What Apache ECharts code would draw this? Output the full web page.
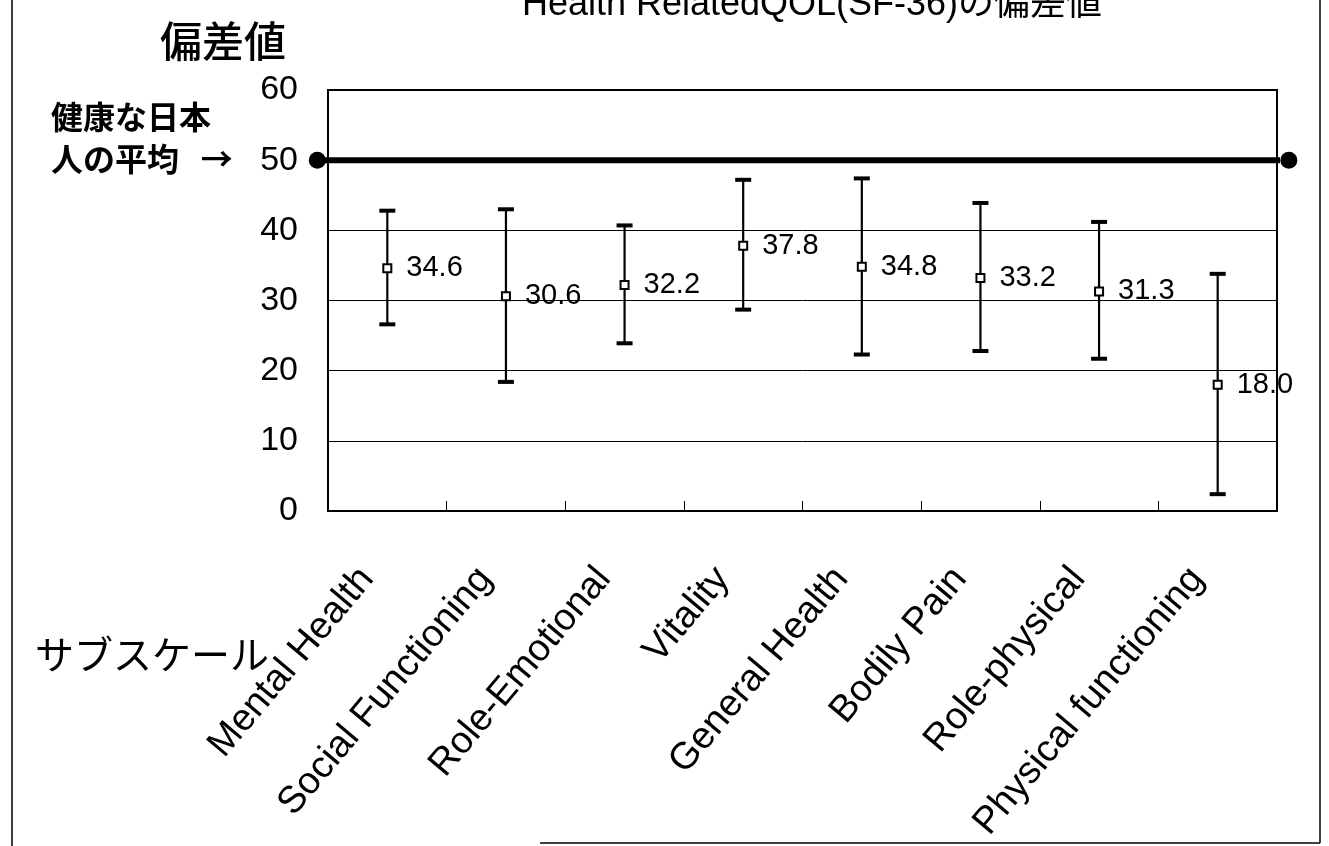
<!DOCTYPE html>
<html>
<head>
<meta charset="utf-8">
<script src="https://cdn.jsdelivr.net/npm/echarts@6/dist/echarts.min.js"></script>
<style>
html,body{margin:0;padding:0;background:#fff;}
#chart{width:1329px;height:846px;}
</style>
</head>
<body>
<div id="chart"></div>
<script>
// ---- data ----
const categories = ['Mental Health', 'Social Functioning', 'Role-Emotional', 'Vitality',
  'General Health', 'Bodily Pain', 'Role-physical', 'Physical functioning'];
const means = [34.6, 30.6, 32.2, 37.8, 34.8, 33.2, 31.3, 18.0];
const upper = [42.8, 43.0, 40.7, 47.2, 47.4, 43.9, 41.2, 33.8];
const lower = [26.6, 18.4, 23.9, 28.7, 22.3, 22.8, 21.7, 2.4];
const yMin = 0, yMax = 60, yStep = 10;
const referenceValue = 50;          // 健康な日本人の平均
const referenceSpan = [-0.09, 8.1]; // reference line extent in category units

const titleText = 'Health RelatedQOL(SF-36)の偏差値';

const chart = echarts.init(document.getElementById('chart'), null, {renderer: 'canvas'});

const errData = categories.map((c, i) => [i, lower[i], upper[i]]);
const refData = referenceSpan.map(x => [x, referenceValue]);

const option = {
  backgroundColor: '#fff',
  animation: false,
  grid: {
    left: 328, right: 52, top: 90, bottom: 335,
    containLabel: false, outerBoundsMode: 'none',
    show: true, borderColor: '#000', borderWidth: 2, backgroundColor: 'transparent'
  },
  xAxis: [{
    type: 'category',
    data: categories,
    boundaryGap: true,
    axisLine: {show: true, lineStyle: {color: '#000', width: 2}},
    axisTick: {show: true, inside: true, length: 10, lineStyle: {color: '#000', width: 1}},
    axisLabel: {
      rotate: 50, margin: 37, color: '#000', interval: 0,
      padding: [0, 32, 0, 0],
      fontSize: 38, fontFamily: 'Liberation Sans, Arial, sans-serif'
    },
    splitLine: {show: false}
  }, {
    type: 'value', min: 0, max: 8, show: false
  }],
  yAxis: {
    type: 'value', min: yMin, max: yMax, interval: yStep,
    axisLine: {show: true, lineStyle: {color: '#000', width: 2}},
    axisTick: {show: false},
    axisLabel: {color: '#000', fontSize: 34, margin: 30, fontFamily: 'Liberation Sans, Arial, sans-serif'},
    splitLine: {show: true, lineStyle: {color: '#000', width: 1}}
  },
  series: [{
    type: 'custom',
    xAxisIndex: 0,
    data: errData,
    z: 3,
    renderItem: function (params, api) {
      const x = api.value(0);
      const lo = api.coord([x, api.value(1)]);
      const hi = api.coord([x, api.value(2)]);
      const cw = 8;
      return {
        type: 'group',
        children: [
          {type: 'line', shape: {x1: lo[0], y1: lo[1], x2: hi[0], y2: hi[1]}, style: {stroke: '#000', lineWidth: 2.2}},
          {type: 'line', shape: {x1: hi[0] - cw, y1: hi[1], x2: hi[0] + cw, y2: hi[1]}, style: {stroke: '#000', lineWidth: 4}},
          {type: 'line', shape: {x1: lo[0] - cw, y1: lo[1], x2: lo[0] + cw, y2: lo[1]}, style: {stroke: '#000', lineWidth: 4}}
        ]
      };
    }
  }, {
    type: 'scatter',
    xAxisIndex: 0,
    data: means,
    symbol: 'rect',
    symbolSize: 8,
    z: 5,
    itemStyle: {color: '#fff', borderColor: '#000', borderWidth: 2, opacity: 1},
    label: {
      show: true, position: 'right', distance: 14, color: '#000', opacity: 1,
      fontSize: 29, fontFamily: 'Liberation Sans, Arial, sans-serif',
      formatter: p => p.value.toFixed(1)
    }
  }, {
    type: 'line',
    xAxisIndex: 1,
    data: refData,
    clip: false,
    symbol: 'circle',
    symbolSize: 17,
    showSymbol: true,
    z: 6,
    itemStyle: {color: '#000'},
    lineStyle: {color: '#000', width: 6}
  }],
  graphic: [
    {type: 'text', style: {text: titleText, x: 812, y: 5, align: 'center', verticalAlign: 'middle',
      font: '36px "Liberation Sans", "Noto Sans CJK JP", sans-serif', fill: '#000'}},
    {type: 'text', style: {text: '偏差値', x: 160, y: 41, align: 'left', verticalAlign: 'middle',
      font: '500 42px "Noto Sans CJK JP", sans-serif', fill: '#000'}},
    {type: 'text', style: {text: '健康な日本', x: 51, y: 117, align: 'left', verticalAlign: 'middle',
      font: 'bold 32px "Noto Sans CJK JP", sans-serif', fill: '#000'}},
    {type: 'text', style: {text: '人の平均   →', x: 51, y: 159, align: 'left', verticalAlign: 'middle',
      font: 'bold 32px "Noto Sans CJK JP", sans-serif', fill: '#000'}},
    {type: 'text', style: {text: 'サブスケール', x: 35, y: 654, align: 'left', verticalAlign: 'middle',
      font: '39px "Noto Sans CJK JP", sans-serif', fill: '#000'}},
    {type: 'line', shape: {x1: 12, y1: 0, x2: 12, y2: 846}, style: {stroke: '#000', lineWidth: 1.5}},
    {type: 'line', shape: {x1: 1320, y1: 0, x2: 1320, y2: 843}, style: {stroke: '#000', lineWidth: 1.5}},
    {type: 'line', shape: {x1: 540, y1: 843, x2: 1320, y2: 843}, style: {stroke: '#000', lineWidth: 1.5}}
  ]
};

chart.setOption(option);
</script>
</body>
</html>
